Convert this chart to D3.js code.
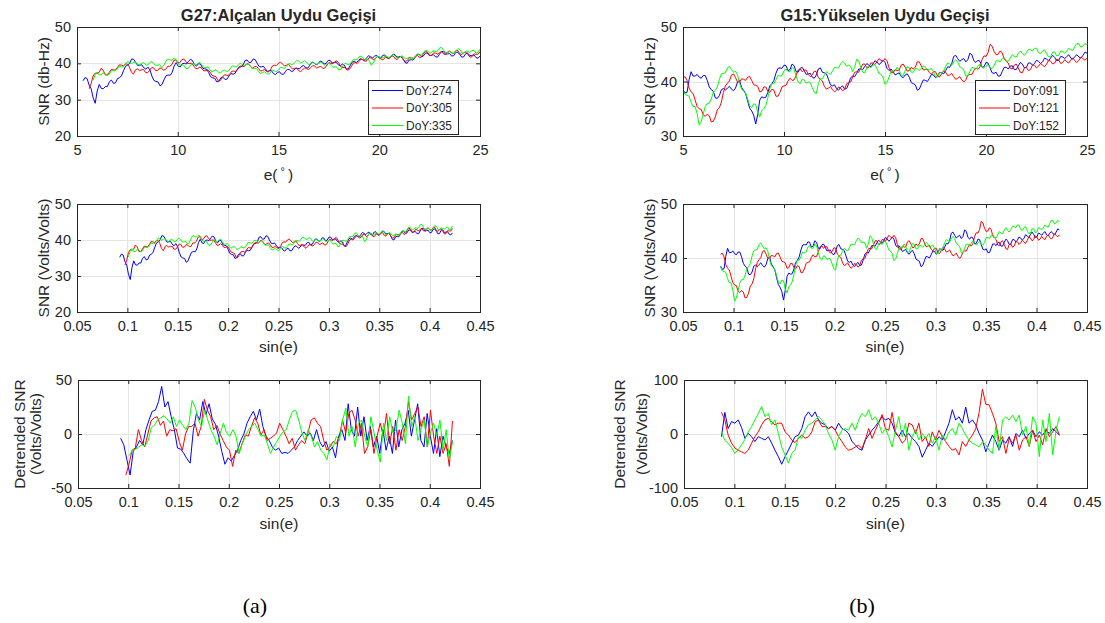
<!DOCTYPE html>
<html>
<head>
<meta charset="utf-8">
<script src="https://cdn.jsdelivr.net/npm/d3@7"></script>
<style>
  html, body { margin: 0; padding: 0; background: #ffffff; }
  svg { display: block; }
</style>
</head>
<body>
<svg id="chart" width="1105" height="623"></svg>
<script>
// ---------------- DATA ----------------
const titleLeft = "G27:Alçalan Uydu Geçişi";
const titleRight = "G15:Yükselen Uydu Geçişi";
const legendLeft = ["DoY:274", "DoY:305", "DoY:335"];
const legendRight = ["DoY:091", "DoY:121", "DoY:152"];
const panelLabels = ["(a)", "(b)"];

const elevTicks = [5, 10, 15, 20, 25];
const sinTicks = [0.05, 0.1, 0.15, 0.2, 0.25, 0.3, 0.35, 0.4, 0.45];
const snrTicksLeft = [20, 30, 40, 50];
const snrTicksRight = [30, 40, 50];
const detTicksLeft = [-50, 0, 50];
const detTicksRight = [-100, 0, 100];

// elevation span (degrees) covered by each pass, samples evenly spaced in it
const elevSpanLeft = [[5.3, 25], [5.6, 25], [5.8, 25]];
const elevSpanRight = [[5, 25], [5, 25], [5, 25]];

// SNR (dB-Hz) — G27 descending pass
const snrL274 = [35.2,36.1,35.8,34.0,33.0,30.5,29.0,32.4,34.2,33.1,33.0,33.6,33.6,34.9,35.4,34.5,34.6,35.8,36.0,36.6,
38.0,39.2,39.5,40.0,41.2,41.1,40.2,39.4,39.5,39.6,38.8,38.4,39.0,38.2,36.5,35.3,35.0,34.9,33.8,34.2,
35.5,36.6,36.8,36.7,37.5,39.3,40.2,39.2,39.0,39.9,40.0,39.8,40.5,41.1,40.8,39.6,39.2,39.9,39.8,38.7,
38.5,38.4,37.5,36.3,36.0,35.9,34.9,35.0,36.0,36.2,35.6,35.6,36.5,37.2,37.0,37.2,38.2,39.0,39.0,39.5,
40.8,40.9,40.2,40.3,41.2,41.0,40.0,39.1,39.0,39.2,38.5,37.8,38.0,38.0,37.2,36.9,37.5,37.7,37.0,37.0,
37.8,38.4,38.2,37.7,38.0,38.7,38.6,38.5,39.2,39.4,38.8,38.7,39.5,40.3,40.2,39.6,39.8,40.6,40.5,39.8,
40.0,40.8,40.8,40.1,40.2,40.3,39.6,39.3,39.8,39.5,38.4,38.5,39.5,40.4,40.5,40.2,40.8,41.3,41.0,40.8,
41.5,42.1,41.8,41.5,42.0,42.2,41.5,41.4,42.2,42.3,41.6,41.3,41.8,42.5,42.4,41.7,41.8,41.9,41.2,40.2,
40.0,40.9,41.0,40.9,41.6,42.5,42.5,41.8,42.0,42.8,42.8,42.1,42.2,42.4,41.8,41.7,42.5,43.3,43.2,42.5,
42.6,42.7,42.0,42.1,43.0,43.1,42.4,41.7,41.8,42.7,42.8,42.1,42.2,42.3,41.6,41.4,42.0];
const snrL305 = [33.0,34.4,36.5,37.3,37.2,37.5,38.6,38.1,36.8,36.8,37.5,38.3,38.2,38.1,38.8,39.6,39.5,39.3,39.8,39.8,
39.0,37.6,37.0,38.2,38.5,38.0,38.2,38.3,37.5,37.4,38.0,38.8,38.8,38.0,38.0,38.7,38.6,38.1,38.3,39.2,
39.2,39.6,40.8,40.9,40.2,40.2,41.0,41.2,40.5,39.9,40.0,40.0,39.2,38.5,38.6,39.0,38.5,37.9,38.0,38.2,
37.6,36.7,36.5,36.3,35.2,35.2,36.0,36.8,36.8,36.6,37.2,37.9,37.8,37.8,38.5,39.3,39.2,39.1,39.8,39.9,
39.2,38.7,39.0,39.2,38.6,37.9,38.0,38.3,37.8,37.6,38.2,39.3,39.5,39.4,40.0,40.3,39.8,39.3,39.5,39.7,
39.0,38.4,38.6,38.7,38.0,37.7,38.2,38.8,38.5,38.3,38.8,39.4,39.2,38.7,39.0,39.2,38.6,38.7,39.5,40.2,
40.0,39.9,40.5,40.7,40.0,39.0,38.8,38.9,38.2,38.2,39.0,40.0,40.2,40.0,40.5,41.2,41.0,40.5,40.8,41.6,
41.5,41.0,41.2,41.9,41.8,41.0,41.0,41.7,41.5,41.4,42.0,42.0,41.2,41.1,41.8,41.8,41.0,40.5,40.8,41.6,
41.5,41.4,42.0,42.2,41.5,41.8,42.8,43.3,43.0,42.2,42.2,42.9,42.8,42.5,43.0,43.2,42.5,42.5,43.2,43.4,
42.8,42.8,43.5,43.5,42.6,42.4,43.0,43.1,42.4,41.7,41.8,42.6,42.5,42.5,43.2];
const snrL335 = [35.3,36.9,37.6,36.8,36.8,37.4,37.2,36.7,37.0,37.9,38.0,37.9,38.5,39.2,39.0,39.0,39.8,40.5,40.3,39.9,
40.2,40.4,39.8,39.5,40.0,40.2,39.6,39.5,40.2,40.5,40.0,39.4,39.5,39.6,38.8,39.3,40.5,41.2,41.0,40.8,
41.3,41.2,40.2,39.5,39.5,39.5,38.6,38.5,39.2,39.9,39.8,39.5,40.0,40.2,39.5,38.8,38.9,39.0,38.2,37.7,
38.0,38.2,37.6,37.3,37.8,38.2,37.8,37.8,38.5,39.3,39.2,39.0,39.5,40.0,39.7,39.3,39.6,39.8,
39.2,38.5,38.6,38.6,37.8,37.2,37.4,37.7,37.2,37.0,37.6,38.2,37.9,37.7,38.2,38.9,38.8,38.6,39.2,39.9,
39.8,39.6,40.2,40.8,40.6,40.1,40.4,40.7,40.2,39.6,39.8,40.3,39.9,39.6,40.0,40.4,39.9,39.5,39.8,40.1,
39.5,38.9,39.0,39.0,38.1,38.4,39.4,40.0,39.8,39.6,40.2,41.0,41.0,41.0,41.8,42.0,41.4,40.9,41.2,40.8,
39.5,40.0,41.3,42.0,41.8,41.3,41.6,42.1,41.8,41.6,42.2,42.5,42.0,41.4,41.6,42.1,41.8,41.2,41.4,41.7,
41.2,41.2,42.0,42.6,42.3,42.3,43.0,43.6,43.4,42.8,43.0,43.5,43.2,43.4,44.3,44.3,43.5,42.9,43.0,43.3,
42.8,42.7,43.4,44.0,43.8,42.9,42.8,43.4,43.2,43.0,43.5,43.6,42.8,43.0,43.9];

// SNR (dB-Hz) — G15 ascending pass
const snrR091 = [38.5,37.9,38.0,40.3,41.8,41.0,41.0,41.3,40.8,40.6,41.1,41.1,40.2,39.0,38.5,38.2,37.0,36.9,37.4,38.5,
38.7,38.4,38.8,39.1,38.6,38.3,38.8,39.9,40.2,38.9,38.4,37.8,36.4,35.1,34.6,33.8,32.2,34.0,36.6,37.2,
37.0,37.1,38.0,39.2,39.6,40.2,41.5,42.4,42.5,42.4,43.0,42.9,42.0,42.2,43.2,42.9,41.8,41.7,42.4,42.6,
42.0,41.3,41.4,41.5,40.8,40.6,41.2,42.3,42.5,41.7,41.6,41.4,40.4,39.4,39.2,39.4,38.7,38.4,38.9,39.2,
38.6,38.7,39.6,40.7,41.0,40.9,41.5,42.3,42.3,42.2,42.8,43.3,43.0,42.7,43.2,43.8,43.6,43.1,43.4,43.9,
43.5,42.4,42.0,42.3,41.8,41.2,41.4,41.6,40.9,40.7,41.2,41.4,40.8,39.8,39.6,39.4,38.4,38.6,39.5,40.3,
40.2,40.0,40.6,41.3,41.2,40.7,41.0,41.7,41.6,41.4,42.0,42.7,42.6,43.2,44.6,44.8,44.2,43.7,44.0,44.2,
43.6,44.0,45.2,44.9,43.8,43.5,43.9,43.7,42.6,42.7,43.5,43.4,42.5,41.6,41.5,41.7,41.0,41.0,41.8,42.6,
42.6,42.3,42.8,42.9,42.2,42.2,42.9,43.5,43.2,42.5,42.6,43.4,43.4,43.0,43.3,43.9,43.7,43.3,43.6,44.3,
44.1,43.8,44.3,44.8,44.4,43.8,43.9,44.6,44.5,44.2,44.6,44.9,44.3,44.1,44.6,44.9,44.5,44.3,44.8,45.4,
45.2];
const snrR121 = [40.7,40.9,40.2,38.8,38.1,37.8,36.6,35.4,35.0,34.9,33.9,33.6,34.0,33.7,32.6,32.7,33.5,34.8,35.2,36.2,
38.0,39.2,39.7,40.1,41.2,41.4,40.7,39.9,39.9,40.5,40.4,40.2,40.8,40.9,40.2,39.4,39.3,39.1,38.1,38.2,
39.0,39.0,38.2,38.0,38.6,38.4,37.3,37.3,38.0,39.0,39.2,39.3,40.1,40.6,40.2,40.3,41.1,42.1,42.3,41.8,
42.1,42.1,41.3,40.9,41.2,41.9,41.8,40.7,40.4,40.1,39.1,38.6,38.8,39.1,38.5,38.1,38.4,39.0,38.8,38.3,
38.6,39.6,39.8,39.9,40.8,41.7,41.8,41.7,42.4,43.2,43.2,42.5,42.6,43.4,43.4,43.1,43.6,44.2,43.9,43.7,
44.2,43.8,42.5,41.7,41.6,42.2,42.0,42.1,43.0,43.2,42.6,41.9,42.0,42.6,42.3,42.6,43.6,43.6,42.8,42.1,
42.2,42.3,41.6,41.3,41.8,41.8,41.0,40.8,41.4,42.0,41.7,41.1,41.2,41.5,40.9,40.4,40.6,40.9,40.3,39.9,
40.3,41.2,41.3,41.3,42.0,42.5,42.2,42.7,44.0,44.7,44.6,45.3,46.8,46.5,45.5,44.9,45.0,45.6,45.3,44.1,
43.7,43.4,42.4,42.3,43.0,43.2,42.5,41.7,41.6,42.5,42.6,42.0,42.2,43.0,43.0,42.5,42.8,43.3,43.0,42.7,
43.2,43.9,43.7,43.2,43.4,44.1,43.9,43.3,43.5,44.0,43.6,43.4,44.0,44.3,43.8,43.5,43.9,44.5,44.2,43.9,
44.3];
const snrR152 = [38.4,37.6,37.5,37.3,36.2,35.4,35.4,34.1,32.0,32.6,34.0,35.4,36.0,36.0,36.8,38.0,38.4,39.0,40.4,41.4,
41.5,41.6,42.5,42.8,42.2,41.7,41.9,41.2,39.7,38.6,38.2,37.9,36.8,35.6,35.2,35.9,35.8,34.3,33.5,34.7,
35.0,35.6,37.0,38.7,39.6,39.6,40.3,41.1,41.0,41.1,42.0,42.3,41.8,41.8,42.6,42.2,41.0,39.9,39.6,40.4,
40.3,39.7,39.9,39.8,38.9,38.0,37.8,39.6,40.5,40.5,41.2,41.8,41.5,41.3,41.9,42.6,42.5,42.5,43.2,43.7,
43.4,42.8,43.0,42.8,41.8,42.6,44.1,43.8,42.6,41.7,41.6,42.6,42.8,42.5,43.0,43.1,42.4,41.5,41.3,40.8,
39.5,39.8,40.8,41.8,42.0,41.9,42.6,42.2,41.0,41.1,42.0,42.7,42.5,41.7,41.7,42.4,42.3,42.0,42.4,42.9,
42.6,42.0,42.2,42.4,41.8,40.9,40.8,41.6,41.6,41.8,42.8,43.4,43.2,43.0,43.6,44.0,43.6,42.7,42.5,42.1,
41.0,41.0,41.8,42.6,42.5,42.3,42.8,43.2,42.7,42.4,42.8,43.1,42.5,42.4,42.9,43.8,43.8,43.6,44.2,44.4,
43.8,43.7,44.3,44.9,44.6,44.5,45.2,45.6,45.1,44.8,45.3,45.9,45.8,45.6,46.1,46.1,45.3,45.1,45.6,45.8,
45.1,44.5,44.6,45.4,45.4,44.7,44.8,45.6,45.5,45.2,45.6,46.1,45.8,45.7,46.4,47.0,46.9,46.3,46.5,47.0,
46.7];

// sin(e) span of each detrended series, samples evenly spaced in it
const sinSpanLeft = [[0.0924, 0.4226], [0.0976, 0.4226], [0.1011, 0.4226]];
const sinSpanRight = [[0.0872, 0.4226], [0.0872, 0.4226], [0.0872, 0.4226]];

// Detrended SNR (Volts/Volts) — G27
const detL274 = [-4,-10,-24,-38,-16,-12,-6,-10,4,13,21,22,30,44,25,30,16,4,-13,-14,-18,-23,-27,3,19,13,30,18,28,14,9,-2,-16,-28,-22,-25,-20,-15,-6,0,10,16,21,13,23,7,-2,-6,-12,-15,-13,-18,-17,-18,-15,-12,-6,-2,2,-2,1,-6,4,-7,-12,-7,-16,-12,-22,-2,4,-6,28,4,-2,25,-2,16,-6,7,-12,-2,-18,4,-15,-2,-18,13,-12,4,10,22,-2,13,28,-6,-12,19,-2,-18,5,-21,-2,-12,-18,-6];
const detL305 = [-38,-28,-15,-13,4,-6,-12,0,12,15,16,8,12,-2,4,3,5,-7,-15,0,7,7,10,-2,7,32,22,16,4,8,0,-6,-12,-15,-30,-15,-18,-9,-1,-2,7,15,10,-1,4,-6,-4,-2,1,10,4,-2,-9,-4,-15,-10,-6,-9,1,13,15,10,7,-6,-15,-12,-7,-9,-2,13,1,19,22,13,-2,10,-18,-12,4,-18,-2,10,-2,19,-9,7,-15,4,-6,7,30,13,19,25,7,16,-12,22,-2,-18,-2,-18,-9,-30,12];
const detL335 = [-20,-15,-14,-12,-10,-11,-6,6,8,13,15,17,14,10,16,7,13,8,4,10,31,25,13,7,22,13,4,-2,-10,1,10,1,-2,4,-2,-18,-9,-2,4,7,10,4,-2,-1,-9,-18,-12,-7,-2,2,4,13,21,22,13,1,-6,4,-2,-12,-7,-15,-18,-24,-9,-12,-2,-6,13,24,-2,7,-12,10,13,-2,-12,16,1,-15,-26,10,-6,16,1,4,22,10,-9,35,7,16,-6,4,13,-12,1,10,-2,13,-15,4,-24,-7];

// Detrended SNR (Volts/Volts) — G15
const detR091 = [-5,40,10,23,20,26,12,-8,1,-5,-14,-5,-8,-11,-5,-17,-30,-42,-56,-42,-30,-17,-5,-2,10,32,41,32,41,26,20,17,10,14,7,20,10,7,1,-14,-20,-27,-30,-11,-2,7,14,23,32,26,29,20,1,-5,7,-5,1,-8,-14,-23,-43,-30,-17,-23,-14,-5,-11,4,20,45,26,32,20,50,20,26,17,1,-11,-33,-17,-2,-14,-30,-11,-17,-5,-23,1,-5,7,-8,1,7,-5,4,-2,7,1,10,4,-2];
const detR121 = [40,26,-2,-17,-26,-30,-33,-36,-30,-17,-5,4,17,26,29,22,17,20,20,4,-2,-11,-16,-8,-2,-8,-5,4,23,26,14,14,10,14,7,-5,-14,-24,-30,-28,-24,-21,-27,-10,10,-8,7,20,36,10,7,40,4,-5,-17,-11,20,17,1,20,-14,-5,-23,4,-11,7,-5,-14,-23,-30,-27,-39,-14,-23,-11,-2,10,40,83,55,54,38,20,-14,-5,-36,-8,-17,-2,-30,-11,-5,-23,7,-14,-2,-20,10,-5,4,14,-2];
const detR152 = [4,-12,-17,-25,-36,-29,-20,-10,4,14,26,38,51,32,38,17,26,1,-24,-39,-54,-36,-30,-5,-8,7,17,20,26,32,26,17,1,-11,-30,-5,7,10,7,20,7,26,38,32,45,26,32,20,1,10,-5,-24,7,32,-5,20,-30,-5,7,-11,1,-8,1,-17,-5,-30,-2,-11,4,10,-2,20,10,-2,-11,-17,-20,-24,-14,-20,-30,-36,14,-30,26,32,26,35,23,35,-2,14,-24,32,20,-42,26,-14,38,-39,7,32];

// ---------------- DRAWING ----------------
const FONT = '"Liberation Sans", Arial, Helvetica, sans-serif';
const INK = "#262626";
const GRID = "#e4e4e4";
const COLORS = ["#0000ff", "#ff0000", "#00ff00"];

const svg = d3.select("#chart");

// evenly spaced sample positions across a span
function samples(span, vals) {
  const n = vals.length;
  return vals.map((v, i) => ({ x: span[0] + (span[1] - span[0]) * i / (n - 1), y: v }));
}
const toSin = e => Math.sin(e * Math.PI / 180);
const ident = v => v;

const leftSnr = [snrL274, snrL305, snrL335].map((v, i) => samples(elevSpanLeft[i], v));
const rightSnr = [snrR091, snrR121, snrR152].map((v, i) => samples(elevSpanRight[i], v));
const leftDet = [detL274, detL305, detL335].map((v, i) => samples(sinSpanLeft[i], v));
const rightDet = [detR091, detR121, detR152].map((v, i) => samples(sinSpanRight[i], v));

const panels = [
  { id: "tl", left: 77, right: 480, top: 27, bottom: 136, xDomain: [5, 25], yDomain: [20, 50],
    xTicks: elevTicks, yTicks: snrTicksLeft, series: leftSnr, xOf: ident,
    title: titleLeft, xLabel: "elev", xLabelY: 180, yLabel: ["SNR (db-Hz)"], yLabelX: [49],
    legend: legendLeft, legendBox: [368, 80, 90, 54] },
  { id: "tr", left: 683, right: 1087, top: 27, bottom: 136, xDomain: [5, 25], yDomain: [30, 50],
    xTicks: elevTicks, yTicks: snrTicksRight, series: rightSnr, xOf: ident,
    title: titleRight, xLabel: "elev", xLabelY: 180, yLabel: ["SNR (db-Hz)"], yLabelX: [655],
    legend: legendRight, legendBox: [975, 80, 90, 54] },
  { id: "ml", left: 77, right: 480, top: 204, bottom: 312, xDomain: [0.05, 0.45], yDomain: [20, 50],
    xTicks: sinTicks, yTicks: snrTicksLeft, series: leftSnr, xOf: toSin,
    xLabel: "sin(e)", xLabelY: 352, yLabel: ["SNR (Volts/Volts)"], yLabelX: [49] },
  { id: "mr", left: 683, right: 1087, top: 204, bottom: 312, xDomain: [0.05, 0.45], yDomain: [30, 50],
    xTicks: sinTicks, yTicks: snrTicksRight, series: rightSnr, xOf: toSin,
    xLabel: "sin(e)", xLabelY: 352, yLabel: ["SNR (Volts/Volts)"], yLabelX: [655] },
  { id: "bl", left: 78, right: 480, top: 380, bottom: 488, xDomain: [0.05, 0.45], yDomain: [-50, 50],
    xTicks: sinTicks, yTicks: detTicksLeft, series: leftDet, xOf: ident,
    xLabel: "sin(e)", xLabelY: 529, yLabel: ["Detrended SNR", "(Volts/Volts)"], yLabelX: [25, 41] },
  { id: "br", left: 684, right: 1087, top: 380, bottom: 488, xDomain: [0.05, 0.45], yDomain: [-100, 100],
    xTicks: sinTicks, yTicks: detTicksRight, series: rightDet, xOf: ident,
    xLabel: "sin(e)", xLabelY: 529, yLabel: ["Detrended SNR", "(Volts/Volts)"], yLabelX: [625, 647] }
];

function styleAxis(sel) {
  sel.select(".domain").remove();
  sel.attr("font-family", FONT).attr("font-size", 14.5).attr("color", INK);
  sel.selectAll("line").attr("stroke", INK).attr("stroke-width", 1);
}

panels.forEach(p => {
  const x = d3.scaleLinear().domain(p.xDomain).range([p.left, p.right]);
  const y = d3.scaleLinear().domain(p.yDomain).range([p.bottom, p.top]);
  const g = svg.append("g").attr("id", "panel-" + p.id);

  // grid
  const gx = p.xTicks.filter(t => t > p.xDomain[0] && t < p.xDomain[1]);
  const gy = p.yTicks.filter(t => t > p.yDomain[0] && t < p.yDomain[1]);
  g.append("g").selectAll("line").data(gx).join("line")
    .attr("x1", d => Math.round(x(d)) + 0.5).attr("x2", d => Math.round(x(d)) + 0.5)
    .attr("y1", p.top).attr("y2", p.bottom)
    .attr("stroke", GRID).attr("stroke-width", 1);
  g.append("g").selectAll("line").data(gy).join("line")
    .attr("y1", d => Math.round(y(d)) + 0.5).attr("y2", d => Math.round(y(d)) + 0.5)
    .attr("x1", p.left).attr("x2", p.right)
    .attr("stroke", GRID).attr("stroke-width", 1);

  // clip
  svg.append("clipPath").attr("id", "clip-" + p.id)
    .append("rect").attr("x", p.left).attr("y", p.top)
    .attr("width", p.right - p.left).attr("height", p.bottom - p.top);

  const line = d3.line().x(d => x(p.xOf(d.x))).y(d => y(d.y));
  const lg = g.append("g").attr("clip-path", `url(#clip-${p.id})`);
  p.series.forEach((s, i) => {
    lg.append("path").datum(s).attr("d", line)
      .attr("fill", "none").attr("stroke", COLORS[i]).attr("stroke-width", 1)
      .attr("stroke-linejoin", "round");
  });

  // box
  g.append("rect").attr("x", p.left + 0.5).attr("y", p.top + 0.5)
    .attr("width", p.right - p.left).attr("height", p.bottom - p.top)
    .attr("fill", "none").attr("stroke", INK).attr("stroke-width", 1);

  // axes (ticks inward on all sides)
  g.append("g").attr("transform", `translate(0,${p.bottom})`)
    .call(d3.axisBottom(x).tickValues(p.xTicks).tickSize(-4).tickPadding(9).tickFormat(d => String(d)))
    .call(styleAxis);
  g.append("g").attr("transform", `translate(0,${p.top})`)
    .call(d3.axisTop(x).tickValues(p.xTicks).tickSize(-4).tickFormat(""))
    .call(styleAxis);
  g.append("g").attr("transform", `translate(${p.left},0)`)
    .call(d3.axisLeft(y).tickValues(p.yTicks).tickSize(-4).tickPadding(6).tickFormat(d => String(d)))
    .call(styleAxis);
  g.append("g").attr("transform", `translate(${p.right},0)`)
    .call(d3.axisRight(y).tickValues(p.yTicks).tickSize(-4).tickFormat(""))
    .call(styleAxis);

  const cx = (p.left + p.right) / 2;
  const cy = (p.top + p.bottom) / 2;

  // title
  if (p.title) {
    g.append("text").attr("x", cx).attr("y", 20.5).attr("text-anchor", "middle")
      .attr("font-family", FONT).attr("font-size", 16.5).attr("font-weight", "bold")
      .attr("fill", INK).text(p.title);
  }

  // x label
  const xl = g.append("text").attr("x", cx).attr("y", p.xLabelY).attr("text-anchor", "middle")
    .attr("font-family", FONT).attr("font-size", 15.5).attr("fill", INK);
  if (p.xLabel === "elev") {
    xl.append("tspan").text("e(\u2009");
    xl.append("tspan").attr("font-size", 11).attr("dy", -5).text("\u00B0");
    xl.append("tspan").attr("dy", 5).text("\u2009)");
  } else {
    xl.text(p.xLabel);
  }

  // y label
  p.yLabel.forEach((t, i) => {
    g.append("text").attr("transform", `translate(${p.yLabelX[i]},${cy}) rotate(-90)`)
      .attr("text-anchor", "middle").attr("font-family", FONT).attr("font-size", 15.5)
      .attr("fill", INK).text(t);
  });

  // legend
  if (p.legend) {
    const [lx, ly, lw, lh] = p.legendBox;
    const leg = g.append("g");
    leg.append("rect").attr("x", lx + 0.5).attr("y", ly + 0.5).attr("width", lw).attr("height", lh)
      .attr("fill", "#ffffff").attr("stroke", INK).attr("stroke-width", 1);
    const rowY = d3.scalePoint().domain(p.legend).range([ly + 10.5, ly + 45.5]);
    p.legend.forEach((name, i) => {
      leg.append("line").attr("x1", lx + 4).attr("x2", lx + 35)
        .attr("y1", rowY(name)).attr("y2", rowY(name))
        .attr("stroke", COLORS[i]).attr("stroke-width", 1);
      leg.append("text").attr("x", lx + 38).attr("y", rowY(name) + 4.3)
        .attr("font-family", FONT).attr("font-size", 12).attr("fill", INK).text(name);
    });
  }
});

// (a) / (b)
const subX = [255, 862];
panelLabels.forEach((t, i) => {
  svg.append("text").attr("x", subX[i]).attr("y", 613).attr("text-anchor", "middle")
    .attr("font-family", '"Liberation Serif", "Times New Roman", serif').attr("font-size", 22)
    .attr("fill", "#000000").text(t);
});
</script>
</body>
</html>
